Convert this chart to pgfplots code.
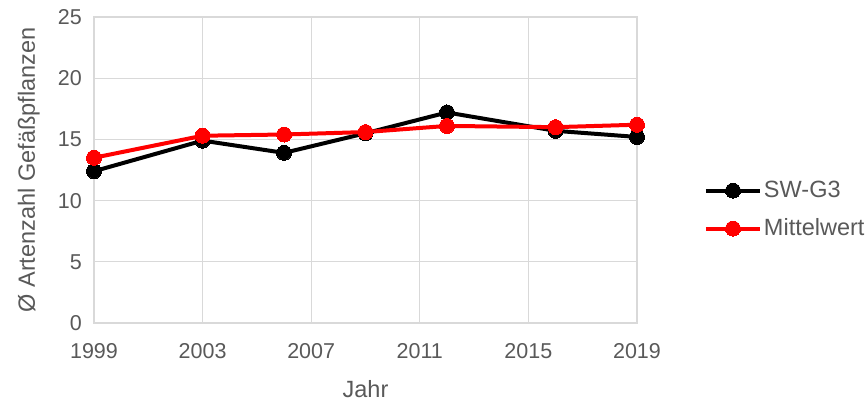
\documentclass[border=0pt]{standalone}
\usepackage{fontspec}
\setmainfont{Liberation Sans}
\usepackage{pgfplots}
\pgfplotsset{compat=1.18}
\definecolor{txt}{HTML}{595959}
\definecolor{gridc}{HTML}{D9D9D9}
\begin{document}
\fontsize{21}{25}\selectfont
\begin{tikzpicture}
\begin{axis}[
  name=ax,
  scale only axis,
  width=543pt, height=306pt,
  xmin=1999, xmax=2019, ymin=0, ymax=25,
  xtick={1999,2003,2007,2011,2015,2019},
  ytick={0,5,10,15,20,25},
  /pgf/number format/assume math mode=true,
  /pgf/number format/1000 sep={},
  major tick length=0pt,
  grid=major,
  major grid style={gridc, line width=1.3pt},
  axis line style={gridc, line width=1.3pt},
  tick label style={text=txt, font=\fontsize{21.5}{25}\selectfont},
  label style={text=txt, font=\fontsize{23.5}{28}\selectfont},
  xlabel={Jahr},
  ylabel={Ø Artenzahl Gefäßpflanzen},
  xticklabel style={yshift=-13pt},
  yticklabel style={xshift=-5pt},
  xlabel style={yshift=-8pt},
  ylabel style={yshift=4pt},
  clip=false,
  legend style={draw=none, fill=none, at={(1.123,0.37)}, anchor=west,
    font=\fontsize{23.5}{28}\selectfont, text=txt,
    row sep=14pt, inner sep=0pt},
  legend cell align=left,
  legend image code/.code={\draw[mark repeat=2,mark phase=2,#1] plot coordinates {(0pt,0pt)(27pt,0pt)(54pt,0pt)};},
]
\addplot[black, line width=4pt, mark=*, mark size=7.5pt, mark options={solid, line width=0pt}] coordinates {
  (1999,12.4) (2003,14.9) (2006,13.9) (2009,15.5) (2012,17.2) (2016,15.7) (2019,15.2)
};
\addlegendentry{SW-G3}
\addplot[red, line width=4pt, mark=*, mark size=7.5pt, mark options={solid, line width=0pt}] coordinates {
  (1999,13.5) (2003,15.3) (2006,15.4) (2009,15.6) (2012,16.1) (2016,16.0) (2019,16.2)
};
\addlegendentry{Mittelwert}
\end{axis}
\pgfresetboundingbox
\path ([shift={(-94pt,-79pt)}]ax.south west) rectangle ++(867pt,402pt);
\end{tikzpicture}
\end{document}
